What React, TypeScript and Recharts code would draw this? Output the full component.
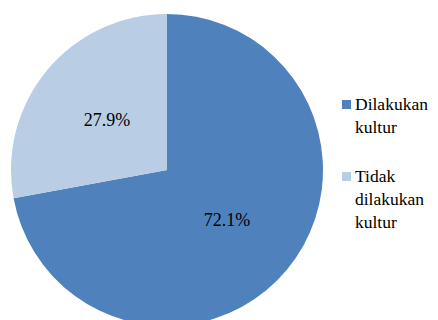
import React from "react";
import { PieChart, Pie, Cell, Legend } from "recharts";

const categories = ["Dilakukan kultur", "Tidak dilakukan kultur"];
const values = [72.1, 27.9];
const colors = ["#4F81BD", "#B9CDE5"];

const data = categories.map((name, i) => ({ name, value: values[i] }));

const RAD = Math.PI / 180;
const FONT = "Times New Roman, Liberation Serif, Tinos, DejaVu Serif, serif";

const renderLabel = (props: any) => {
  const { cx, cy, midAngle, outerRadius, value } = props;
  const r = outerRadius * 0.5;
  const x = cx + r * Math.cos(-midAngle * RAD);
  const y = cy + r * Math.sin(-midAngle * RAD);
  return (
    <text
      x={x}
      y={y}
      fill="#000"
      textAnchor="middle"
      dominantBaseline="central"
      style={{ fontFamily: FONT, fontSize: 18 }}
    >
      {value.toFixed(1)}%
    </text>
  );
};

const renderLegend = () => (
  <div
    style={{
      fontFamily: FONT,
      fontSize: 17.5,
      lineHeight: "23px",
      color: "#000",
    }}
  >
    {categories.map((c, i) => (
      <div key={c} style={{ position: "relative", paddingLeft: 13, marginBottom: i === 0 ? 26 : 0, width: 82 }}>
        <span
          style={{
            position: "absolute",
            left: 0,
            top: 7,
            width: 9,
            height: 9,
            background: colors[i],
          }}
        />
        {c}
      </div>
    ))}
  </div>
);

export default function App() {
  return (
    <div style={{ position: "absolute", left: 0, top: 0, width: 438, height: 320, background: "#fff" }}>
      <PieChart width={438} height={320} margin={{ top: 0, right: 0, bottom: 0, left: 0 }}>
        <Pie
          data={data}
          dataKey="value"
          nameKey="name"
          cx={167}
          cy={170}
          outerRadius={156}
          startAngle={90}
          endAngle={-270}
          stroke="none"
          label={renderLabel}
          labelLine={false}
          isAnimationActive={false}
        >
          {data.map((d, i) => (
            <Cell key={d.name} fill={colors[i]} />
          ))}
        </Pie>
        <Legend
          content={renderLegend}
          wrapperStyle={{ position: "absolute", left: 342, top: 93, width: 96 }}
        />
      </PieChart>
    </div>
  );
}
